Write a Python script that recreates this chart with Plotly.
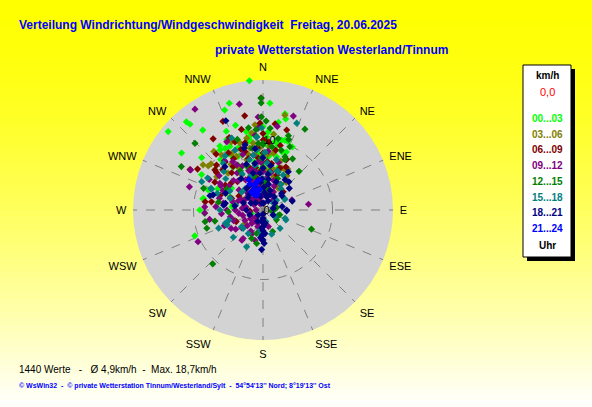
import plotly.graph_objects as go

W, H = 592, 407

# ---------------- texts ----------------
title_line1 = "Verteilung Windrichtung/Windgeschwindigkeit  Freitag, 20.06.2025"
title_line2 = "private Wetterstation Westerland/Tinnum"
summary_text = "1440 Werte   -   Ø 4,9km/h  -  Max. 18,7km/h"
footer_text = "© WsWin32  -  © private Wetterstation Tinnum/Westerland/Sylt  -  54°54'13'' Nord; 8°19'13'' Ost"

compass_dirs = [0, 22.5, 45, 67.5, 90, 112.5, 135, 157.5, 180, 202.5, 225, 247.5, 270, 292.5, 315, 337.5]
compass_labels = ["N", "NNE", "NE", "ENE", "E", "ESE", "SE", "SSE", "S", "SSW", "SW", "WSW", "W", "WNW", "NW", "NNW"]
radial_ticks = [0, 10]
radial_tick_labels = ["0", "10"]
radial_max = 18.7

legend_unit = "km/h"
legend_value = "0,0"
legend_footer = "Uhr"
time_labels = ["00...03", "03...06", "06...09", "09...12", "12...15", "15...18", "18...21", "21...24"]
time_colors = ["#00FF00", "#808000", "#800000", "#800080", "#008000", "#008080", "#000080", "#0000FF"]

# ---------------- data: (direction deg, speed km/h) per 3-hour block ----------------
pts_00_03 = [(354,18.7),(342.5,16.1),(3.7,15.4),(339,15.4),(319,16.8),(319.6,16.2),(309.6,17.7),(323,14.4),
             (12.9,14.2),(14,13.5),(3.9,11.3),(305,14.3),(310.5,11.6),(249.3,10.5),(280.6,8.8),(17.4,10.5),
             (20,10.5),(13,9.6),(11,8.8),(326,11.1),(328.4,10.4),(349.5,10.2),(346,9.9),(276,4.5),(266.7,8.4),
             (290,8.4),(15.3,7.5),(348,11.5),(10,10.0),(15,10.4),(4.7,9.2),(332.8,11.4),(332.5,10.3),(324.4,10.6),
             (331,7.4),(14.4,7.9),(304.7,5.5),(292,5.1),(281,8.7),(253.7,1.7),(279.4,4.4),(5.7,7.7),(356.6,7.2),
             (270,9.1),(8,11.0),(22,9.0),(340,8.5),(352,6.0),(350,10.8),(3,10.5),(355,9.0),(7,8.0),(18,8.8),
             (25,10.0),(338,9.6),(330,9.0),(320,9.5),(335,12.5),(342,12.8),(0,12.0),(10,12.8),(300,10.2),(295,7.2),
             (340,6.5),(350,7.0),(0,6.8),(10,6.0),(325,7.5),(315,8.0),(345,5.5),(5,5.8),(20,6.5),(355,8.2),
             (335,8.5),(310,9.0)]
pts_03_06 = [(29,6.6),(31,6.9),(307,10.8),(311.5,10.0),(13,14.0),(354.6,12.3),(351.6,11.2),(347.2,10.6),(341,10.2),
             (331,9.3),(323,9.9),(333.7,8.6),(342,7.6),(308.8,10.1),(24.2,6.6),(30.6,6.7),(28.7,4.1),(35,3.8),
             (0.7,3.8),(349,4.9),(328.7,5.9),(316.6,7.3),(305.7,8.2),(15.5,2.0),(297,3.2),(2.9,5.8),(348,9.1),
             (356.6,8.9),(351.7,9.7),(10.3,8.3),(250,4.3),(233.5,3.2),(18,5.0),(340,2.5),(5,8.0),(352,8.0),
             (345,8.3),(2,10.0),(6,9.2),(335,10.8),(325,8.0),(20,7.5),(35,6.0),(40,5.2),(15,6.0),(358,7.0),
             (8,11.0),(330,7.0),(320,11.0),(10,4.5)]
pts_06_09 = [(359,16.1),(349,13.8),(335.7,14.0),(302,11.1),(16.5,12.0),(328.8,9.6),(337.7,10.6),(344,7.7),(354.8,7.5),
             (342.8,8.8),(342.7,6.3),(325.6,7.6),(321.8,8.8),(309.8,9.0),(299,12.0),(279,7.5),(303.3,6.5),(21.4,5.4),
             (48,3.9),(10.5,6.8),(0.3,10.1),(289,6.5),(278,8.4),(314,9.3),(309,8.6),(34.5,4.5),(246.6,4.2),(266,1.9),
             (350,4.5),(10,5.6),(330,3.2),(300,4.0),(20,2.5),(340,1.5),(5,7.0),(355,9.0),(25,8.0),(15,9.6),(0,11.0),
             (358,12.5),(336,5.0),(318,5.5),(345,10.0),(330,8.5),(320,7.0),(310,6.0),(350,6.2),(0,8.2),(12,8.8),
             (22,6.5),(28,7.0),(335,11.5),(340,9.3),(300,8.0),(5,9.8),(355,5.5),(320,10.5),(290,4.8),(315,8.2),
             (345,12.0),(8,12.5),(325,12.5)]
pts_09_12 = [(347.4,15.6),(17.9,14.2),(326,17.5),(287.5,11.1),(82.8,6.6),(244,10.4),(299,11.9),(215,5.3),(182,4.3),
             (299.6,8.9),(274,6.8),(332,11.1),(273,8.4),(357,13.4),(356.7,11.8),(354,10.8),(9.7,12.2),(267,8.4),
             (260,7.8),(240,5.3),(214.8,5.0),(162,2.5),(197.6,2.5),(70.8,4.4),(301.8,7.3),(320,2.0),(340,3.0),
             (350,4.0),(10,3.5),(300,3.0),(280,2.5),(260,2.0),(240,3.0),(220,2.5),(200,2.0),(330,5.0),(345,6.0),
             (0,5.5),(20,4.5),(310,4.5),(290,5.0),(270,4.0),(250,4.5),(230,4.0),(355,2.0),(15,2.0),(325,6.5),
             (335,7.0),(305,6.0),(30,3.0),(45,2.0),(340,4.5),(318,3.5),(300,1.5),(270,1.0),(350,8.0),(5,8.5),
             (322,9.0),(285,6.5),(265,6.0),(210,3.5),(190,3.0),(225,1.5),(340,6.0),(8,6.5),(312,2.5),
             (335,1.0),(315,3.0),(295,3.5),(285,4.5),(275,3.0),(255,3.0),(245,2.0),(235,4.8),(225,3.2),(205,3.8),
             (195,4.5),(345,2.2),(350,5.5),(5,4.5),(12,5.5),(25,3.8),(355,7.0),(330,7.5),(315,6.0),(300,7.0),
             (290,3.8),(320,5.5),(340,8.5),(5,3.0),(0,1.0),(310,2.0),(280,5.8),(262,3.5),(248,6.0),(235,2.2),
             (215,2.0),(358,6.8),(18,7.2),(328,8.2),(343,1.8),(352,3.3),(308,8.0),(296,6.4),(270,5.2),(258,4.8)]
pts_12_15 = [(27.4,13.1),(359,15.4),(298,13.3),(314.4,13.7),(111.6,7.5),(223,10.6),(43,7.6),(252,8.5),(257,7.1),
             (190.7,4.9),(106,2.5),(359,13.4),(359,16.1),(0,9.6),(12,10.5),(22.4,8.3),(290,9.1),(110,2.3),
             (201.8,4.4),(155.9,3.4),(90,1.6),(80,2.0),(23,9.9),(18.9,11.3),(356,9.6),(355,10.6),(355,11.6),
             (0,9.4),(1.3,8.2),(23.7,7.9),(258.6,8.5),(0,6.2),(126,2.4),(96,1.3),(195,3.5),(267,5.0),(345,5.0),
             (330,6.5),(5,4.0),(15,3.0),(5,11.8),(8,9.2),(358,7.5),(2,12.8),(17,9.0),(350,12.0),(340,10.8),
             (30,8.5),(340,6.8),(355,3.0),(300,6.0),(280,6.5),(25,5.0),(20,10.8),(350,9.0)]
pts_15_18 = [(21.2,13.4),(294.8,9.7),(227.4,5.8),(204,5.8),(137,3.6),(113.5,3.6),(160.3,3.7),(247.6,5.6),(61.2,3.5),
             (110.7,3.4),(292.6,8.1),(250.6,5.75),(292,8.0),(270,6.2),(289.5,5.0),(336.4,11.3),(335,9.5),(64,3.5),
             (359,11.8),(57,1.8),(253.5,5.1),(227,3.9),(212,4.0),(166,1.7),(185.4,3.5),(21.8,5.9),(314.5,7.9),
             (319.6,8.8),(54,2.4),(119,2.0),(247.7,6.9),(188.5,2.9),(232,3.9),(354,8.7),(340,3.0),(0,4.5),
             (320,4.0),(20,6.0),(350,6.5),(300,5.5),(310,7.0),(330,6.0),(35,4.5),(345,7.5),(5,6.8),(15,7.5),
             (325,9.5),(310,4.0),(290,7.0),(280,4.0),(40,4.0),(355,10.5),(10,5.5),(30,5.8),(340,5.2),(350,8.0),
             (300,9.2),(2,8.3)]
pts_18_21 = [(180,0.6),(180,1.2),(180,1.8),(180,2.4),(180,3.0),(181,3.6),(180,4.3),(182,5.7),(178,4.8),(90,3.4),
             (92,3.4),(36,5.4),(42.6,5.5),(337.4,13.9),(285,7.9),(277,5.7),(318.7,8.3),(50.5,4.9),(53,3.4),(80,2.8),
             (116,1.6),(223,1.0),(171,1.9),(184,2.6),(323,3.9),(286.8,7.5),(294,5.9),(352.6,8.9),(355.3,5.3),
             (343,9.3),(33.5,6.6),(73,4.4),(25,2.4),(48.2,3.6),(80,1.5),(278,4.1),(344.5,9.7),(280,5.5),(350,2.0),
             (340,3.5),(5,2.5),(355,4.0),(20,3.0),(330,2.5),(315,1.5),(10,4.5),(345,5.5),(0,6.0),(300,2.0),
             (30,1.5),(350,3.0),(5,1.0),(335,4.8),(12,3.8),(175,3.4),(185,4.0),(183,1.5),(176,2.2),(345,2.8),
             (325,5.5),(0,7.5),(10,6.5),(15,2.0),(40,2.5),(60,2.0),(330,4.0),(320,3.0),(310,2.8),(350,6.8),
             (358,4.5),(2,3.3),(25,4.5),(340,7.0),(290,3.0),(270,2.4),(250,2.0),(205,1.8),(350,1.0),(8,5.2)]
pts_21_24 = [(342,3.8),(336,2.3),(328,3.1),(340,2.5),(345,4.0),(333,4.2),(350,3.0),(338,3.3),(330,2.6),
             (346,2.8),(352,4.4),(335,4.8)]

groups = [pts_00_03, pts_03_06, pts_06_09, pts_09_12, pts_12_15, pts_15_18, pts_18_21, pts_21_24]

# ---------------- figure ----------------
FONT = "Liberation Sans, Arial, sans-serif"

def px(x):
    return x / W

def py(y):
    return 1 - y / H

fig = go.Figure()
for pts, lab, col in zip(groups, time_labels, time_colors):
    fig.add_trace(go.Scatterpolar(
        theta=[p[0] for p in pts], r=[p[1] for p in pts], mode="markers", name=lab,
        marker=dict(symbol="diamond", size=5.5, color=col, line=dict(width=0)),
        hoverinfo="skip", showlegend=False))

shapes = []
# vertical yellow gradient background
n_bands = 60
for i in range(n_bands):
    t = (i + 0.5) / n_bands
    b = int(round(255 * t ** 1.5))
    shapes.append(dict(type="rect", xref="paper", yref="paper", x0=0, x1=1,
                       y0=1 - (i + 1) / n_bands - 0.002, y1=1 - i / n_bands,
                       fillcolor=f"rgb(255,255,{b})", line=dict(width=0), layer="below"))
# legend box with shadow
shapes.append(dict(type="rect", xref="paper", yref="paper", x0=px(527), x1=px(575), y0=py(261), y1=py(69),
                   fillcolor="black", line=dict(width=0), layer="above"))
shapes.append(dict(type="rect", xref="paper", yref="paper", x0=px(523), x1=px(571), y0=py(257), y1=py(65),
                   fillcolor="white", line=dict(color="black", width=1), layer="above"))

annotations = []
def add_text(text, x, y, size, color, bold=False, anchor="left"):
    annotations.append(dict(text=text, x=px(x), y=py(y), xref="paper", yref="paper",
                            xanchor=anchor, yanchor="middle", showarrow=False,
                            font=dict(family=FONT, size=size, color=color,
                                      weight="bold" if bold else "normal")))

add_text(title_line1, 17, 25, 12, "#0000FF", bold=True)
add_text(title_line2, 213, 50, 12, "#0000FF", bold=True)
add_text(summary_text, 17, 369, 10, "black")
add_text(footer_text, 17, 386, 7, "#0000FF", bold=True)

lx = 547
add_text(legend_unit, lx, 75, 10, "black", bold=True, anchor="center")
add_text(legend_value, lx, 92, 11, "#FF0000", anchor="center")
for k, (lab, col) in enumerate(zip(time_labels, time_colors)):
    add_text(lab, lx, 118.5 + k * 15.7, 10, col, bold=True, anchor="center")
add_text(legend_footer, lx, 245, 10, "black", bold=True, anchor="center")

fig.update_layout(
    width=W, height=H, autosize=False,
    margin=dict(l=0, r=0, t=0, b=0),
    paper_bgcolor="#FFFF00",
    showlegend=False,
    hovermode=False,
    shapes=shapes,
    annotations=annotations,
    polar=dict(
        domain=dict(x=[px(133), px(393)], y=[py(340), py(80)]),
        bgcolor="#D3D3D3",
        angularaxis=dict(rotation=90, direction="clockwise", tickmode="array",
                         tickvals=compass_dirs, ticktext=compass_labels,
                         showline=False, showgrid=True, gridcolor="#808080", griddash="dash", gridwidth=1,
                         ticks="outside", ticklen=4, tickcolor="rgba(0,0,0,0)",
                         tickfont=dict(family=FONT, size=11, color="black")),
        radialaxis=dict(range=[0, radial_max], tickmode="array", tickvals=radial_ticks,
                        ticktext=radial_tick_labels, showline=False, showgrid=True,
                        gridcolor="#808080", griddash="dash", gridwidth=1, angle=90,
                        side="clockwise", tickangle=90, ticks="",
                        tickfont=dict(family=FONT, size=11, color="black")),
    ),
)

fig.write_html("out.html", config={"displayModeBar": False},
               post_script="document.body.style.margin='0';")
